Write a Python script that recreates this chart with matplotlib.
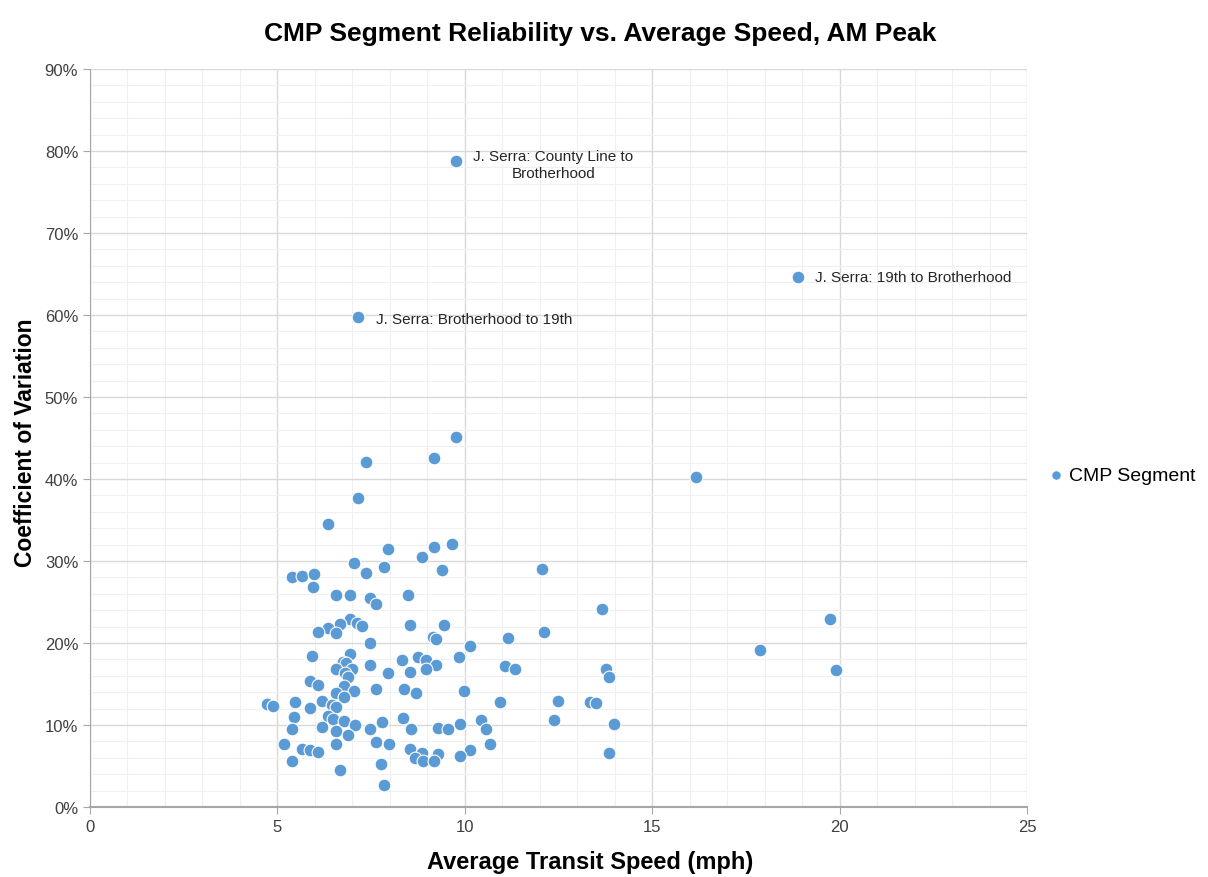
import matplotlib.pyplot as plt
from matplotlib.ticker import MultipleLocator, PercentFormatter
from matplotlib import font_manager

# data: average transit speed (mph), coefficient of variation (%)
speed = [9.77, 18.89, 7.15,
         9.77, 9.18, 7.36, 16.17, 7.15, 6.35, 7.95, 9.66, 9.18, 8.86, 7.04, 7.84,
         9.39, 7.36, 12.06, 5.39, 5.66, 5.98, 5.95, 6.56, 6.94, 7.47, 7.63, 8.48,
         13.66, 19.74, 6.94, 7.12, 6.67, 6.35, 7.26, 8.54, 9.45, 6.08, 6.56, 12.11,
         11.15, 7.47, 9.15, 9.23, 10.14, 17.88, 6.94, 5.92, 9.85, 8.75, 8.32, 8.96,
         6.75, 6.83, 7.47, 9.23, 11.07, 11.34, 13.77, 13.85, 19.90, 6.56, 6.99, 8.54,
         8.96, 7.95, 6.80, 6.88, 5.87, 6.08, 6.78, 7.63, 7.04, 8.38, 8.70, 9.98,
         6.56, 6.78, 4.72, 4.88, 5.47, 6.19, 6.46, 6.56, 5.87, 10.94, 12.49, 13.34,
         13.50, 6.35, 5.44, 6.48, 6.78, 7.07, 8.35, 7.79, 12.38, 10.43, 13.98, 9.87,
         5.39, 6.19, 6.56, 6.88, 7.47, 8.56, 9.29, 9.55, 10.57, 5.18, 5.66, 5.87,
         6.08, 6.56, 7.63, 7.98, 8.54, 8.86, 9.29, 10.14, 10.67, 8.67, 8.88, 9.18,
         9.87, 13.85, 5.39, 6.67, 7.76, 7.84]
cov = [78.8, 64.6, 59.8,
       45.1, 42.6, 42.1, 40.2, 37.7, 34.5, 31.5, 32.1, 31.7, 30.5, 29.8, 29.3,
       28.9, 28.5, 29.0, 28.0, 28.2, 28.4, 26.8, 25.9, 25.9, 25.5, 24.8, 25.9,
       24.1, 22.9, 22.9, 22.4, 22.3, 21.8, 22.1, 22.2, 22.2, 21.3, 21.2, 21.3,
       20.6, 20.0, 20.7, 20.5, 19.6, 19.1, 18.7, 18.4, 18.3, 18.3, 17.9, 17.9,
       17.7, 17.6, 17.3, 17.3, 17.2, 16.8, 16.8, 15.9, 16.7, 16.8, 16.8, 16.5,
       16.8, 16.3, 16.3, 15.9, 15.4, 14.9, 14.8, 14.4, 14.1, 14.4, 13.9, 14.1,
       13.9, 13.4, 12.6, 12.3, 12.8, 12.9, 12.4, 12.2, 12.1, 12.8, 12.9, 12.8,
       12.7, 11.1, 11.0, 10.7, 10.5, 10.0, 10.9, 10.4, 10.6, 10.6, 10.1, 10.1,
       9.5, 9.8, 9.3, 8.8, 9.5, 9.5, 9.6, 9.5, 9.5, 7.7, 7.1, 7.0,
       6.7, 7.7, 7.9, 7.7, 7.1, 6.6, 6.5, 7.0, 7.7, 6.0, 5.6, 5.6,
       6.2, 6.6, 5.6, 4.5, 5.2, 2.7]

# labelled segments: index into the arrays and its text
labels = [(0, 'J. Serra: County Line to\nBrotherhood'),
          (1, 'J. Serra: 19th to Brotherhood'),
          (2, 'J. Serra: Brotherhood to 19th')]

names = [f.name for f in font_manager.fontManager.ttflist]
narrow = 'Liberation Sans Narrow' if 'Liberation Sans Narrow' in names else 'Liberation Sans'
plt.rcParams['font.family'] = [narrow, 'DejaVu Sans']

blue = '#5B9BD5'

fig = plt.figure(figsize=(12.08, 8.78), dpi=100)
ax = fig.add_axes([90 / 1208, 70 / 878, (1027 - 90) / 1208, (808 - 70) / 878])

ax.scatter(speed, [c / 100 for c in cov], s=85, color=blue,
           edgecolors='white', linewidths=0.8, zorder=3, label='CMP Segment')

ax.set_xlim(0, 25)
ax.set_ylim(0, 0.9)
ax.xaxis.set_major_locator(MultipleLocator(5))
ax.xaxis.set_minor_locator(MultipleLocator(1))
ax.yaxis.set_major_locator(MultipleLocator(0.1))
ax.yaxis.set_minor_locator(MultipleLocator(0.02))
ax.yaxis.set_major_formatter(PercentFormatter(1.0, decimals=0))

ax.grid(which='major', color='#D9D9D9', linewidth=1.0, zorder=0)
ax.grid(which='minor', color='#F0F0F0', linewidth=0.8, zorder=0)
ax.set_axisbelow(True)

for side in ['top', 'right']:
    ax.spines[side].set_visible(False)
ax.spines['left'].set_color('#A6A6A6')
ax.spines['bottom'].set_color('#A6A6A6')
ax.spines['bottom'].set_linewidth(1.5)
ax.tick_params(which='major', length=5, color='#A6A6A6', labelsize=12,
               labelcolor='#404040')
ax.tick_params(which='minor', length=0)

ax.set_title('CMP Segment Reliability vs. Average Speed, AM Peak',
             fontsize=19, fontweight='bold', pad=21, x=0.544)
ax.set_xlabel('Average Transit Speed (mph)', fontsize=17, fontweight='bold')
ax.xaxis.set_label_coords(0.534, -0.058)
ax.set_ylabel('Coefficient of Variation', fontsize=16.5, fontweight='bold')
ax.yaxis.set_label_coords(-0.057, 0.495)

# annotations
i, txt = labels[0]
ax.annotate(txt, (speed[i], cov[i] / 100), xytext=(70, -2.5), textcoords='offset points',
            ha='center', va='center', fontsize=11, color='#262626', linespacing=1.3)
i, txt = labels[1]
ax.annotate(txt, (speed[i], cov[i] / 100), xytext=(12, 0), textcoords='offset points',
            ha='left', va='center', fontsize=11, color='#262626')
i, txt = labels[2]
ax.annotate(txt, (speed[i], cov[i] / 100), xytext=(13, -2), textcoords='offset points',
            ha='left', va='center', fontsize=11, color='#262626')

ax.legend(loc='center left', frameon=False, fontsize=14, handletextpad=0.2,
          handlelength=1.0, markerscale=0.75, borderaxespad=0)
leg = ax.get_legend()
leg.set_bbox_to_anchor((1.012, 0.45), transform=ax.transAxes)

fig.savefig('out.png', dpi=100)
